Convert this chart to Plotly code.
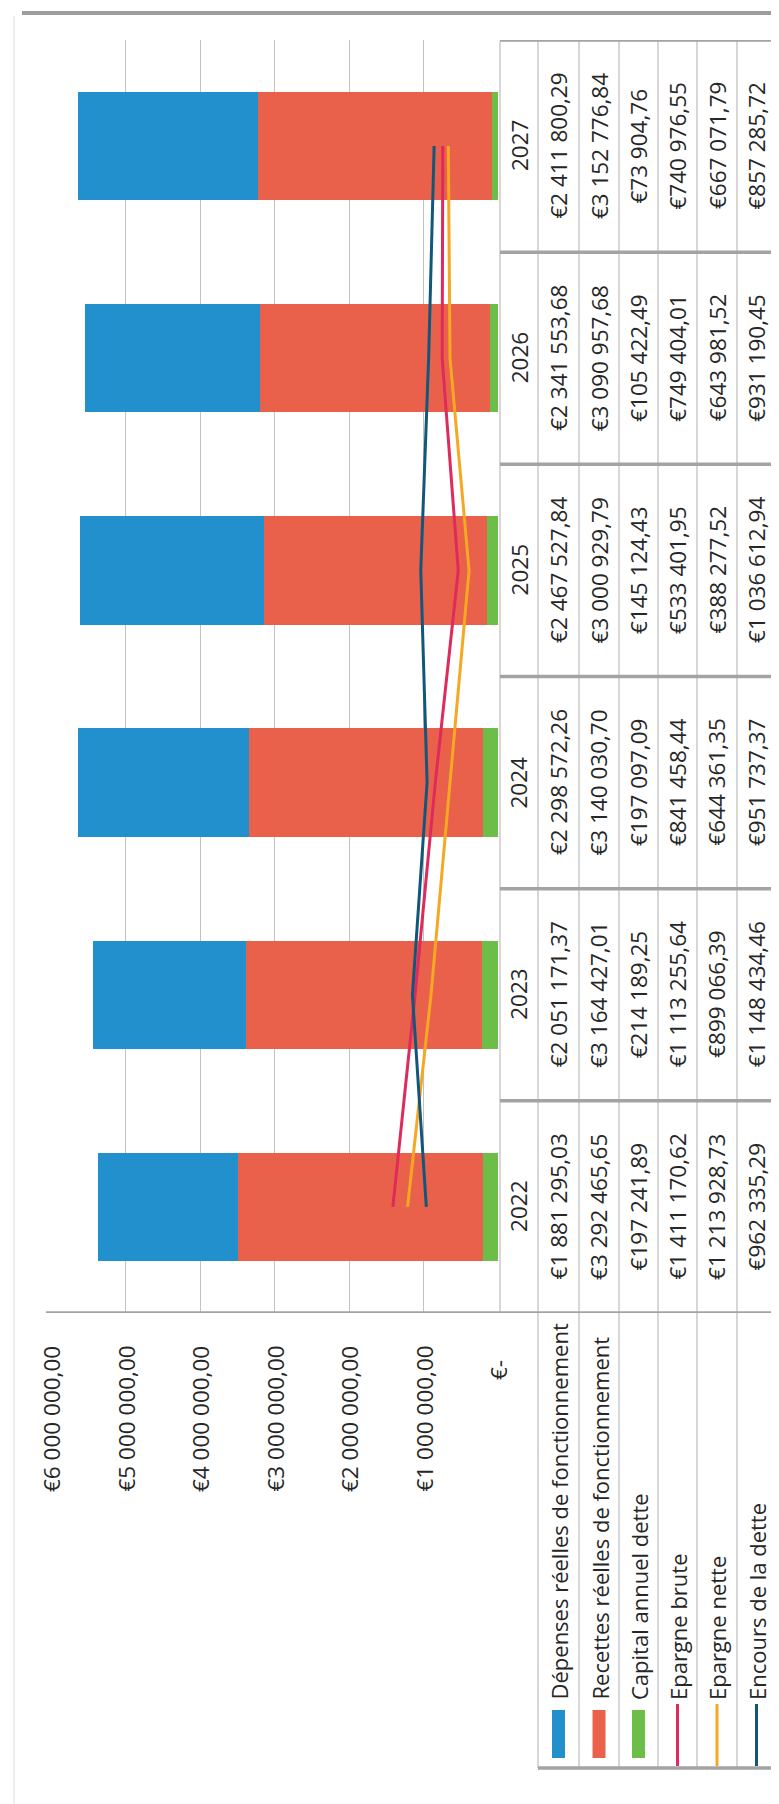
import plotly.graph_objects as go

# ---------------- data ----------------
years = ["2022", "2023", "2024", "2025", "2026", "2027"]
depenses = [1881295.03, 2051171.37, 2298572.26, 2467527.84, 2341553.68, 2411800.29]
recettes = [3292465.65, 3164427.01, 3140030.70, 3000929.79, 3090957.68, 3152776.84]
capital = [197241.89, 214189.25, 197097.09, 145124.43, 105422.49, 73904.76]
epargne_brute = [1411170.62, 1113255.64, 841458.44, 533401.95, 749404.01, 740976.55]
epargne_nette = [1213928.73, 899066.39, 644361.35, 388277.52, 643981.52, 667071.79]
encours = [962335.29, 1148434.46, 951737.37, 1036612.94, 931190.45, 857285.72]

series_names = ["Dépenses réelles de fonctionnement",
                "Recettes réelles de fonctionnement",
                "Capital annuel dette",
                "Epargne brute",
                "Epargne nette",
                "Encours de la dette"]
value_ticks = [0, 1000000, 2000000, 3000000, 4000000, 5000000, 6000000]
tick_labels = ["€-", "€1 000 000,00", "€2 000 000,00", "€3 000 000,00",
               "€4 000 000,00", "€5 000 000,00", "€6 000 000,00"]

# ---------------- style ----------------
C_BLUE = "#2190CC"
C_RED = "#EA614B"
C_GREEN = "#6CBE48"
C_PINK = "#DE2A5C"
C_ORANGE = "#F6A723"
C_TEAL = "#12577A"
TXT = "#262626"
FONT = "Open Sans"
FS_NUM = 22.5
FS_TXT = 22

W, H = 779, 1804
def px(x):
    return x / W
def py(y):
    return 1 - y / H

def fmt(v):
    s = f"{v:,.2f}"
    s = s.replace(",", " ").replace(".", ",")
    return "€" + s

fig = go.Figure()

fig.add_trace(go.Bar(y=years, x=capital, orientation="h", marker=dict(color=C_GREEN, line=dict(width=0)),
                     name=series_names[2]))
fig.add_trace(go.Bar(y=years, x=recettes, orientation="h", marker=dict(color=C_RED, line=dict(width=0)),
                     name=series_names[1]))
fig.add_trace(go.Bar(y=years, x=depenses, orientation="h", marker=dict(color=C_BLUE, line=dict(width=0)),
                     name=series_names[0]))
fig.add_trace(go.Scatter(y=years, x=epargne_brute, mode="lines", line=dict(color=C_PINK, width=3),
                         name=series_names[3]))
fig.add_trace(go.Scatter(y=years, x=epargne_nette, mode="lines", line=dict(color=C_ORANGE, width=3),
                         name=series_names[4]))
fig.add_trace(go.Scatter(y=years, x=encours, mode="lines", line=dict(color=C_TEAL, width=3),
                         name=series_names[5]))

plot_left, plot_right = 43, 490
plot_top, plot_bottom = 32, 1305

fig.update_layout(
    width=W, height=H,
    margin=dict(l=0, r=0, t=0, b=0),
    paper_bgcolor="white", plot_bgcolor="white",
    barmode="stack", bargap=0.49,
    showlegend=False,
    font=dict(family=FONT, size=FS_TXT, color=TXT),
    xaxis=dict(domain=[px(plot_left), px(plot_right)], range=[6000000, 0],
               tickvals=value_ticks, showticklabels=False, ticks="",
               showgrid=True, gridcolor="#c2c2c2", gridwidth=1,
               zeroline=False, showline=False, fixedrange=True),
    yaxis=dict(domain=[py(plot_bottom), py(plot_top)], type="category",
               categoryorder="array", categoryarray=years,
               range=[-0.5, 5.5], showticklabels=False, ticks="",
               showgrid=False, zeroline=False, showline=False, fixedrange=True),
)

shapes = []
THICK = "#a3a3a3"
THIN = "#bdbdbd"

# table row boundaries (picture x)
rows_x = [492, 530, 571, 611, 650, 689, 729, 768]
legend_bottom = 1760

# thin vertical lines of the data table
for xx in rows_x[1:]:
    shapes.append(dict(type="line", xref="paper", yref="paper",
                       x0=px(xx), x1=px(xx), y0=py(plot_top + 1), y1=py(legend_bottom),
                       line=dict(color=THIN, width=1.2)))
shapes.append(dict(type="line", xref="paper", yref="paper",
                   x0=px(rows_x[0]), x1=px(rows_x[0]), y0=py(plot_top + 1), y1=py(plot_bottom),
                   line=dict(color=THIN, width=1.2)))

# thick separators between years (and table top)
for k in range(6):
    yv = k + 0.5
    shapes.append(dict(type="line", xref="paper", yref="y",
                       x0=px(rows_x[0]), x1=px(rows_x[-1]), y0=yv, y1=yv,
                       line=dict(color=THICK, width=3.5)))
# value axis line + table edge
shapes.append(dict(type="line", xref="paper", yref="y",
                   x0=px(38), x1=px(rows_x[-1]), y0=-0.5, y1=-0.5,
                   line=dict(color=THICK, width=3.5)))
# legend section bottom
shapes.append(dict(type="line", xref="paper", yref="paper",
                   x0=px(rows_x[1]), x1=px(rows_x[-1]), y0=py(legend_bottom), y1=py(legend_bottom),
                   line=dict(color=THICK, width=3.5)))

# outer frame (scan page lines)
shapes.append(dict(type="line", xref="paper", yref="paper", x0=px(14), x1=1, y0=py(5), y1=py(5),
                   line=dict(color="#9c9c9c", width=4)))
shapes.append(dict(type="line", xref="paper", yref="paper", x0=px(4), x1=1, y0=py(1798), y1=py(1798),
                   line=dict(color="#9c9c9c", width=4)))
shapes.append(dict(type="line", xref="paper", yref="paper", x0=px(774), x1=px(774), y0=py(8), y1=py(1796),
                   line=dict(color="#d0d0d0", width=1)))
shapes.append(dict(type="line", xref="paper", yref="paper", x0=px(6), x1=px(6), y0=py(8), y1=py(1796),
                   line=dict(color="#eeeeee", width=2)))

# legend keys
row_centers = [(rows_x[i] + rows_x[i + 1]) / 2 for i in range(len(rows_x) - 1)]
key_colors = [C_BLUE, C_RED, C_GREEN, C_PINK, C_ORANGE, C_TEAL]
for i in range(6):
    cx = row_centers[i + 1]
    if i < 3:
        shapes.append(dict(type="rect", xref="paper", yref="paper",
                           x0=px(cx - 6.5), x1=px(cx + 6.5), y0=py(1750), y1=py(1702),
                           fillcolor=key_colors[i], line=dict(width=0)))
    else:
        shapes.append(dict(type="line", xref="paper", yref="paper",
                           x0=px(cx), x1=px(cx), y0=py(1758), y1=py(1696),
                           line=dict(color=key_colors[i], width=3)))

annotations = []
# value axis labels
for v, lab in zip(value_ticks, tick_labels):
    top = 1350 if v == 0 else 1336
    annotations.append(dict(x=v, xref="x", y=py(top), yref="paper", text=lab,
                            textangle=-90, xanchor="center", yanchor="top",
                            showarrow=False, font=dict(size=FS_NUM, color=TXT, family=FONT)))

# data table (y given as category index)
table_values = [depenses, recettes, capital, epargne_brute, epargne_nette, encours]
for j, yr in enumerate(years):
    annotations.append(dict(x=px(row_centers[0]), xref="paper", y=j, yref="y", text=yr,
                            textangle=-90, xanchor="center", yanchor="middle",
                            showarrow=False, font=dict(size=FS_NUM, color=TXT, family=FONT)))
    for i, vals in enumerate(table_values):
        annotations.append(dict(x=px(row_centers[i + 1]), xref="paper", y=j, yref="y",
                                text=fmt(vals[j]), textangle=-90,
                                xanchor="center", yanchor="middle", showarrow=False,
                                font=dict(size=FS_NUM, color=TXT, family=FONT)))

# legend texts
for i, name in enumerate(series_names):
    annotations.append(dict(x=px(row_centers[i + 1]), xref="paper", y=py(1694), yref="paper",
                            text=name, textangle=-90, xanchor="center", yanchor="bottom",
                            showarrow=False, font=dict(size=FS_TXT, color=TXT, family=FONT)))

fig.update_layout(shapes=shapes, annotations=annotations)

fig.write_html("out.html")
